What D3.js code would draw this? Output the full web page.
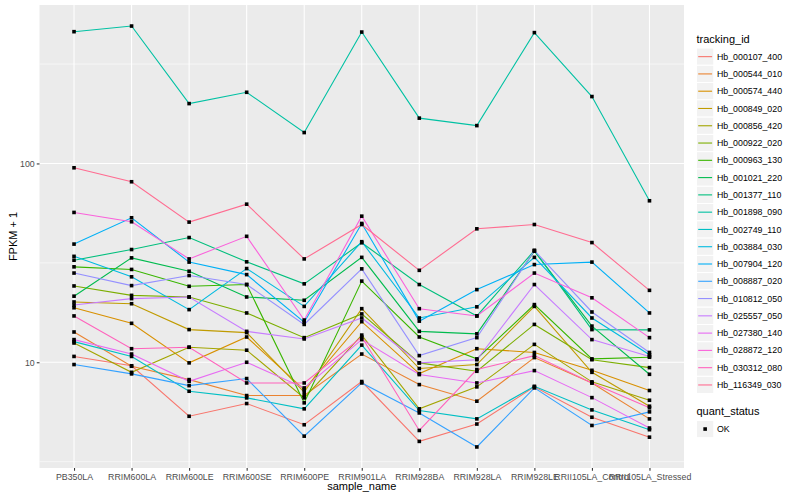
<!DOCTYPE html>
<html>
<head>
<meta charset="utf-8">
<script src="https://cdn.jsdelivr.net/npm/d3@7"></script>
<style>
  body { margin: 0; background: #fff; }
  svg { font-family: "Liberation Sans", Arial, sans-serif; }
</style>
</head>
<body>
<div id="chart"></div>
<script>
// x categories
const samples = ["PB350LA", "RRIM600LA", "RRIM600LE", "RRIM600SE", "RRIM600PE", "RRIM901LA",
    "RRIM928BA", "RRIM928LA", "RRIM928LE", "RRII105LA_Control", "RRII105LA_Stressed"];

const trackingIds = ["Hb_000107_400", "Hb_000544_010", "Hb_000574_440", "Hb_000849_020", "Hb_000856_420",
    "Hb_000922_020", "Hb_000963_130", "Hb_001021_220", "Hb_001377_110", "Hb_001898_090",
    "Hb_002749_110", "Hb_003884_030", "Hb_007904_120", "Hb_008887_020", "Hb_010812_050",
    "Hb_025557_050", "Hb_027380_140", "Hb_028872_120", "Hb_030312_080", "Hb_116349_030"];

// FPKM + 1, one array per gene, in sample order
const hb_000107_400 = [10.7, 9.6, 5.35, 6.2, 4.85, 8.0, 4.0, 4.89, 7.52, 5.29, 4.2];
const hb_000544_010 = [14.2, 9.55, 8.18, 6.8, 6.8, 11.0, 7.72, 6.37, 10.56, 7.87, 5.19];
const hb_000574_440 = [18.8, 15.7, 9.93, 13.4, 7.29, 16.0, 8.77, 11.7, 11.2, 9.11, 7.21];
const hb_000849_020 = [20.1, 19.7, 14.6, 14.1, 7.07, 18.6, 9.3, 9.74, 19.1, 8.9, 6.01];
const hb_000856_420 = [12.5, 8.9, 11.9, 11.5, 6.62, 13.7, 5.83, 7.52, 12.3, 7.97, 6.44];
const hb_000922_020 = [24.2, 21.7, 21.3, 17.7, 13.3, 17.5, 9.93, 9.01, 15.5, 10.3, 9.4];
const hb_000963_130 = [30.2, 29.3, 24.1, 24.6, 6.25, 25.6, 13.4, 10.4, 19.5, 10.4, 10.6];
const hb_001021_220 = [21.5, 33.5, 28.7, 21.3, 20.5, 33.7, 14.3, 13.9, 36.2, 15.2, 8.7];
const hb_001377_110 = [32.6, 36.9, 42.4, 32.0, 24.8, 39.9, 24.6, 17.1, 36.5, 14.6, 14.55];
const hb_001898_090 = [460, 491, 200, 228, 143, 458, 169, 155, 455, 217, 64.9];
const hb_002749_110 = [12.7, 10.7, 7.15, 6.62, 5.83, 12.2, 5.72, 5.19, 7.57, 5.76, 4.58];
const hb_003884_030 = [34.1, 26.9, 18.4, 29.6, 19.1, 40.4, 16.7, 19.0, 33.7, 16.7, 10.9];
const hb_007904_120 = [39.3, 53.3, 31.9, 27.6, 15.9, 49.9, 16.1, 23.2, 31.0, 31.9, 17.7];
const hb_008887_020 = [9.74, 8.74, 7.63, 8.28, 4.25, 7.87, 5.56, 3.75, 7.43, 4.81, 5.63];
const hb_010812_050 = [28.1, 24.3, 27.3, 24.6, 15.5, 29.5, 10.8, 13.3, 36.5, 17.9, 11.2];
const hb_025557_050 = [19.4, 20.9, 21.3, 14.3, 13.1, 16.7, 9.93, 10.3, 24.6, 13.0, 10.7];
const hb_027380_140 = [13.0, 11.0, 8.02, 10.0, 7.43, 13.0, 8.67, 7.87, 9.08, 6.64, 4.67];
const hb_028872_120 = [56.7, 50.9, 33.1, 43.0, 16.3, 54.3, 18.6, 17.1, 28.1, 21.1, 13.3];
const hb_030312_080 = [17.1, 11.7, 11.9, 7.87, 7.87, 13.4, 4.54, 9.19, 10.8, 7.87, 5.9];
const hb_116349_030 = [95.1, 80.9, 50.7, 62.4, 33.1, 49.3, 29.0, 46.9, 49.3, 40.0, 23.0];

const seriesValues = [hb_000107_400, hb_000544_010, hb_000574_440, hb_000849_020, hb_000856_420,
    hb_000922_020, hb_000963_130, hb_001021_220, hb_001377_110, hb_001898_090,
    hb_002749_110, hb_003884_030, hb_007904_120, hb_008887_020, hb_010812_050,
    hb_025557_050, hb_027380_140, hb_028872_120, hb_030312_080, hb_116349_030];

// ggplot default hue palette, 20 levels
const colors = ["#F8766D", "#EA8331", "#D89000", "#C09B00", "#A3A500", "#7CAE00", "#39B600",
    "#00BB4E", "#00BF7D", "#00C1A3", "#00BFC4", "#00BAE0", "#00B0F6", "#35A2FF", "#9590FF",
    "#C77CFF", "#E76BF3", "#FA62DB", "#FF62BC", "#FF6C91"];

const yBreaks = [10, 100];
const yMinor = [3.162, 31.62, 316.2];

const width = 800, height = 500;
const panel = { left: 39.5, right: 684, top: 5, bottom: 468 };

const svg = d3.select("#chart")
    .append("svg")
    .attr("width", width)
    .attr("height", height);

const x = d3.scalePoint()
    .domain(samples)
    .range([panel.left, panel.right])
    .padding(0.6);

// log scale with ggplot's 5% expansion
const allVals = seriesValues.flat();
const lmin = Math.log10(d3.min(allVals)), lmax = Math.log10(d3.max(allVals));
const pad = (lmax - lmin) * 0.05;
const y = d3.scaleLog()
    .domain([10 ** (lmin - pad), 10 ** (lmax + pad)])
    .range([panel.bottom, panel.top]);

// Panel + grid
svg.append("rect")
    .attr("x", panel.left).attr("y", panel.top)
    .attr("width", panel.right - panel.left).attr("height", panel.bottom - panel.top)
    .attr("fill", "#EBEBEB");

const grid = svg.append("g").attr("stroke", "#fff");
grid.selectAll(".minor").data(yMinor).join("line")
    .attr("x1", panel.left).attr("x2", panel.right)
    .attr("y1", d => y(d)).attr("y2", d => y(d))
    .attr("stroke-width", 0.55);
grid.selectAll(".major").data(yBreaks).join("line")
    .attr("x1", panel.left).attr("x2", panel.right)
    .attr("y1", d => y(d)).attr("y2", d => y(d))
    .attr("stroke-width", 1.07);
grid.selectAll(".vx").data(samples).join("line")
    .attr("x1", d => x(d)).attr("x2", d => x(d))
    .attr("y1", panel.top).attr("y2", panel.bottom)
    .attr("stroke-width", 1.07);

// Axes
const yAxis = svg.append("g")
    .attr("transform", `translate(${panel.left},0)`)
    .call(d3.axisLeft(y).tickValues(yBreaks).tickFormat(d3.format("d")).tickSize(2.75).tickPadding(2));
const xAxis = svg.append("g")
    .attr("transform", `translate(0,${panel.bottom})`)
    .call(d3.axisBottom(x).tickSize(2.75).tickPadding(3));

[yAxis, xAxis].forEach(a => {
    a.select(".domain").remove();
    a.selectAll(".tick line").attr("stroke", "#333").attr("stroke-width", 1.07);
    a.selectAll(".tick text")
        .attr("fill", "#4D4D4D")
        .style("font-size", "8.8px")
        .style("font-family", "Liberation Sans, Arial, sans-serif");
});

svg.append("text")
    .attr("x", (panel.left + panel.right) / 2).attr("y", 490)
    .attr("text-anchor", "middle")
    .style("font-size", "11px")
    .text("sample_name");

svg.append("text")
    .attr("transform", `translate(17,${(panel.top + panel.bottom) / 2}) rotate(-90)`)
    .attr("text-anchor", "middle")
    .style("font-size", "11px")
    .text("FPKM + 1");

// Lines
const line = d3.line()
    .x((d, i) => x(samples[i]))
    .y(d => y(d));

svg.append("g")
    .attr("fill", "none")
    .attr("stroke-width", 1.1)
    .selectAll("path")
    .data(seriesValues)
    .join("path")
    .attr("stroke", (d, i) => colors[i])
    .attr("d", line);

// Points
const pts = seriesValues.flatMap(vals => vals.map((v, i) => ({ s: samples[i], v })));
const ps = 3.6;
svg.append("g")
    .selectAll("rect")
    .data(pts)
    .join("rect")
    .attr("x", d => x(d.s) - ps / 2)
    .attr("y", d => y(d.v) - ps / 2)
    .attr("width", ps).attr("height", ps)
    .attr("fill", "#000");

// Legend
const key = 17.28, legX = 696.5, legY = 48;
svg.append("text")
    .attr("x", legX).attr("y", 43)
    .style("font-size", "11px")
    .text("tracking_id");

const leg = svg.append("g")
    .selectAll("g")
    .data(trackingIds)
    .join("g")
    .attr("transform", (d, i) => `translate(${legX},${legY + i * key})`);

leg.append("rect")
    .attr("width", key).attr("height", key)
    .attr("fill", "#F2F2F2").attr("stroke", "#fff").attr("stroke-width", 1);
leg.append("line")
    .attr("x1", 1.7).attr("x2", key - 1.7)
    .attr("y1", key / 2).attr("y2", key / 2)
    .attr("stroke", (d, i) => colors[i])
    .attr("stroke-width", 1.1);
leg.append("text")
    .attr("x", key + 3.2).attr("y", key / 2 + 3.1)
    .style("font-size", "8.8px")
    .text(d => d);

svg.append("text")
    .attr("x", legX).attr("y", 415)
    .style("font-size", "11px")
    .text("quant_status");

const q = svg.append("g").attr("transform", `translate(${legX},420.4)`);
q.append("rect")
    .attr("width", key).attr("height", key)
    .attr("fill", "#F2F2F2").attr("stroke", "#fff");
q.append("rect")
    .attr("x", key / 2 - ps / 2).attr("y", key / 2 - ps / 2)
    .attr("width", ps).attr("height", ps)
    .attr("fill", "#000");
q.append("text")
    .attr("x", key + 3.2).attr("y", key / 2 + 3.1)
    .style("font-size", "8.8px")
    .text("OK");
</script>
</body>
</html>
